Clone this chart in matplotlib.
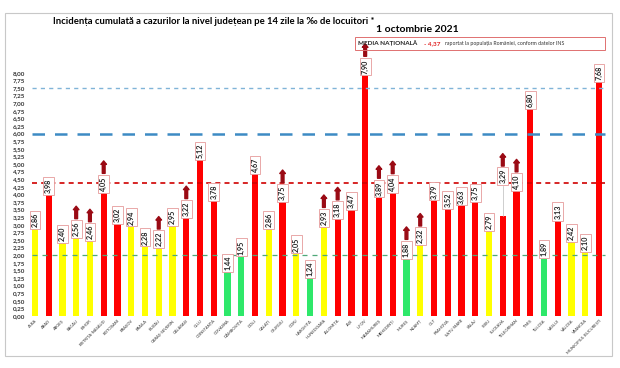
import matplotlib
matplotlib.use('Agg')
import matplotlib.pyplot as plt
from matplotlib.patches import Rectangle
import numpy as np

plt.rcParams['font.family'] = ['Lato', 'DejaVu Sans']

counties = ['ALBA', 'ARAD', 'ARGEȘ', 'BACĂU', 'BIHOR', 'BISTRIȚA-NĂSĂUD', 'BOTOȘANI',
            'BRAȘOV', 'BRĂILA', 'BUZĂU', 'CARAȘ-SEVERIN', 'CĂLĂRAȘI', 'CLUJ', 'CONSTANȚA',
            'COVASNA', 'DÂMBOVIȚA', 'DOLJ', 'GALAȚI', 'GIURGIU', 'GORJ', 'HARGHITA',
            'HUNEDOARA', 'IALOMIȚA', 'IAȘI', 'ILFOV', 'MARAMUREȘ', 'MEHEDINȚI', 'MUREȘ',
            'NEAMȚ', 'OLT', 'PRAHOVA', 'SATU MARE', 'SĂLAJ', 'SIBIU', 'SUCEAVA',
            'TELEORMAN', 'TIMIȘ', 'TULCEA', 'VASLUI', 'VÂLCEA', 'VRANCEA',
            'MUNICIPIUL BUCUREȘTI']
incidence = [2.86, 3.98, 2.40, 2.56, 2.46, 4.05, 3.02, 2.94, 2.28, 2.22, 2.95, 3.22,
             5.12, 3.78, 1.44, 1.95, 4.67, 2.86, 3.75, 2.05, 1.24, 2.93, 3.18, 3.47,
             7.90, 3.89, 4.04, 1.88, 2.32, 3.79, 3.52, 3.63, 3.75, 2.79, 3.29, 4.10,
             6.80, 1.89, 3.13, 2.42, 2.10, 7.68]
# 'y' yellow, 'r' red, 'g' green (scenario colour used in the original)
zone = ['y', 'r', 'y', 'y', 'y', 'r', 'r', 'y', 'y', 'y', 'y', 'r',
        'r', 'r', 'g', 'g', 'r', 'y', 'r', 'y', 'g', 'y', 'r', 'r',
        'r', 'r', 'r', 'g', 'y', 'r', 'r', 'r', 'r', 'y', 'r', 'r',
        'r', 'g', 'r', 'y', 'y', 'r']
rising = ['BACĂU', 'BIHOR', 'BISTRIȚA-NĂSĂUD', 'BUZĂU', 'CĂLĂRAȘI', 'GIURGIU',
          'HUNEDOARA', 'IALOMIȚA', 'ILFOV', 'MARAMUREȘ', 'MEHEDINȚI', 'MUREȘ',
          'NEAMȚ', 'SUCEAVA', 'TELEORMAN']
national_avg = 4.37
thresholds = [2.0, 6.0, 7.5]

zone_colors = {'y': '#FFFF00', 'r': '#FF0000', 'g': '#2EE86A'}

fig = plt.figure(figsize=(6.2, 3.68), dpi=100)
W, H = 620, 368
fig.patches.append(Rectangle((5 / W, 1 - 356 / H), 607 / W, 343 / H, transform=fig.transFigure,
                             fill=False, edgecolor='#C8C8C8', linewidth=0.8))

ax = fig.add_axes([28 / W, 52 / H, 578 / W, 243.3 / H])
x = np.arange(len(counties))
ax.bar(x, incidence, width=0.45, color=[zone_colors[z] for z in zone], zorder=2)

# reference lines
ax.hlines(thresholds[0], -0.2, 41.4, colors='#4FA878', linestyles=(0, (4, 4)), lw=0.9, zorder=3)
ax.hlines(national_avg, -0.2, 41.4, colors='#D00000', linestyles=(0, (3, 2.5)), lw=1.2, zorder=3)
ax.hlines(thresholds[1], -0.2, 41.4, colors='#3D8BC4', linestyles=(0, (5, 4)), lw=1.8, zorder=3)
ax.hlines(thresholds[2], -0.2, 41.4, colors='#80B4D8', linestyles=(0, (3, 3)), lw=1.0, zorder=3)

for i, (name, v) in enumerate(zip(counties, incidence)):
    lift = 1.0 if name == 'SUCEAVA' else 0.0
    if lift:
        ax.plot([i, i], [v, v + lift], color='#BBBBBB', lw=0.5, zorder=3)
    ax.annotate(f'{v:.2f}'.replace('.', ','), xy=(i, v + lift), xytext=(0, 1.5),
                textcoords='offset points', rotation=90, ha='center', va='bottom',
                fontsize=5.2, fontweight='bold', color='#222222', zorder=5,
                annotation_clip=False,
                bbox=dict(boxstyle='square,pad=0.25', fc='white', ec='#E59A9A', lw=0.6))
    if name in rising:
        ax.annotate('', xy=(i, v + lift + 1.05), xytext=(i, v + lift + 0.64),
                    annotation_clip=False, zorder=5,
                    arrowprops=dict(arrowstyle='simple,head_length=0.5,head_width=0.8,tail_width=0.4',
                                    fc='#9A0A14', ec='#9A0A14', mutation_scale=5, shrinkA=0, shrinkB=0))

ax.set_xlim(-0.5, 41.5)
ax.set_ylim(0, 8)
yt = np.arange(0, 8.01, 0.25)
ax.set_yticks(yt)
ax.set_yticklabels([f'{t:.2f}'.replace('.', ',') for t in yt], fontsize=4.5, fontweight='bold',
                   color='#333333')
ax.set_xticks(x)
ax.set_xticklabels(counties, rotation=45, ha='right', rotation_mode='anchor', fontsize=3,
                   color='#333333')
ax.tick_params(length=0, pad=2)
for s in ax.spines.values():
    s.set_visible(False)

fig.text(53 / W, 1 - 21 / H, 'Incidența cumulată a cazurilor la nivel județean pe 14 zile la ‰ de locuitori *',
         fontsize=6.8, fontweight='bold', va='center', ha='left')
fig.text(376 / W, 1 - 30 / H, '1 octombrie 2021', fontsize=7.5, fontweight='bold', va='center', ha='left')

fig.patches.append(Rectangle((355 / W, 1 - 50 / H), 250 / W, 13 / H, transform=fig.transFigure,
                             fill=False, edgecolor='#E07070', linewidth=0.7))
fig.text(358 / W, 1 - 43.5 / H, 'MEDIA NAȚIONALĂ', fontsize=4.6, fontweight='bold',
         color='#222222', va='center', ha='left')
fig.text(424 / W, 1 - 43.5 / H, '- 4,37', fontsize=4.6, fontweight='bold',
         color='#E02020', va='center', ha='left')
fig.text(445 / W, 1 - 43.5 / H, 'raportat la populația României, conform datelor INS',
         fontsize=3.8, color='#333333', va='center', ha='left')

fig.savefig('out.png', dpi=100, facecolor='white')
